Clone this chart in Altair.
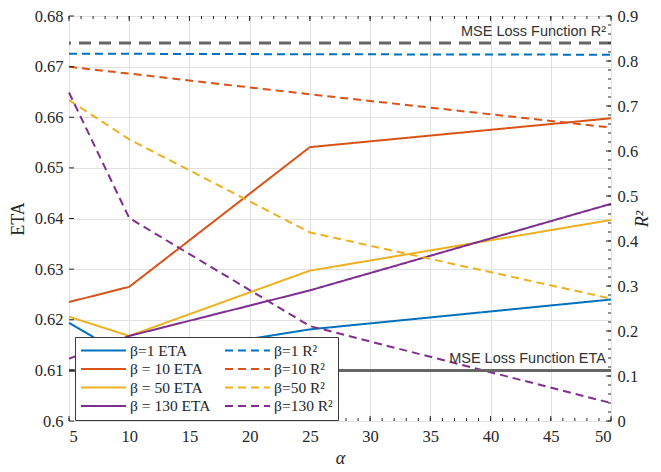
import altair as alt
import pandas as pd

# ---- data ----
alpha = [5, 10, 25, 50]
eta_b1 = [0.6194, 0.6124, 0.6181, 0.6240]
eta_b10 = [0.6235, 0.6265, 0.6541, 0.6598]
eta_b50 = [0.6206, 0.6168, 0.6297, 0.6397]
eta_b130 = [0.6123, 0.6168, 0.6258, 0.6429]
r2_b1 = [0.816, 0.816, 0.815, 0.814]
r2_b10 = [0.787, 0.772, 0.726, 0.652]
r2_b50 = [0.713, 0.626, 0.419, 0.272]
r2_b130 = [0.730, 0.451, 0.211, 0.040]
mse_eta = 0.61
mse_r2 = 0.84

eta_names = ["β=1 ETA", "β = 10 ETA", "β = 50 ETA", "β = 130 ETA"]
r2_names = ["β=1 R²", "β=10 R²", "β=50 R²", "β=130 R²"]
colors = ["#0072BD", "#D95319", "#EDB120", "#7E2F8E"]

x_major = [5, 10, 15, 20, 25, 30, 35, 40, 45, 50]
x_minor = list(range(5, 51))
eta_ticks = [0.60, 0.61, 0.62, 0.63, 0.64, 0.65, 0.66, 0.67, 0.68]
r2_major = [0, 0.1, 0.2, 0.3, 0.4, 0.5, 0.6, 0.7, 0.8, 0.9]
r2_minor = [round(0.02 * i, 2) for i in range(46)]

ETA_DOM = [0.6, 0.68]
R2_DOM = [0, 0.9]
W, H = 542, 405
SERIF = "Liberation Serif"
SANS = "Liberation Sans"
AX = "#262626"

# ---- tables ----
eta_rows, r2_rows = [], []
for name, vals in zip(eta_names, [eta_b1, eta_b10, eta_b50, eta_b130]):
    for a, v in zip(alpha, vals):
        eta_rows.append({"a": a, "v": v, "s": name})
for name, vals in zip(r2_names, [r2_b1, r2_b10, r2_b50, r2_b130]):
    for a, v in zip(alpha, vals):
        r2_rows.append({"a": a, "v": v, "s": name})
eta_df = pd.DataFrame(eta_rows)
r2_df = pd.DataFrame(r2_rows)

# legend fills column by column: first column ETA, second column R²
domain_order = eta_names + r2_names
color_range = colors + colors
dash_range = [[1, 0]] * 4 + [[8, 5]] * 4

xaxis = alt.Axis(values=x_major, grid=True, ticks=False, domain=False,
                 labelFont=SERIF, labelFontSize=16.5, labelColor=AX, labelPadding=7,
                 title="α", titleFont=SERIF, titleFontSize=18, titleFontStyle="italic",
                 titleFontWeight="normal", titleColor=AX, titlePadding=5,
                 gridColor="#e1e1e1", gridWidth=1)


def X():
    return alt.X("a:Q", scale=alt.Scale(domain=[5, 50], nice=False, zero=False), axis=xaxis)


def Yeta(axis=None):
    return alt.Y("v:Q", scale=alt.Scale(domain=ETA_DOM, nice=False, zero=False), axis=axis)


def Yr2(axis=None):
    return alt.Y("v:Q", scale=alt.Scale(domain=R2_DOM, nice=False, zero=False), axis=axis)


legend = alt.Legend(orient="none", legendX=6, legendY=321, columns=2,
                    symbolType="M-1,0H5", symbolSize=225, symbolStrokeWidth=2,
                    labelFont=SERIF, labelFontSize=15.5, labelColor=AX, labelLimit=0,
                    labelOffset=33, strokeColor="#3a3a3a", fillColor="white",
                    padding=5, rowPadding=1.5, columnPadding=10)

color_enc = alt.Color("s:N", title=None, legend=legend,
                      scale=alt.Scale(domain=domain_order, range=color_range))
dash_enc = alt.StrokeDash("s:N", title=None, legend=legend,
                          scale=alt.Scale(domain=domain_order, range=dash_range))

left_axis = alt.Axis(orient="left", values=eta_ticks, grid=True, ticks=False, domain=False,
                     labelExpr="format(datum.value, '.2~f')",
                     labelFont=SERIF, labelFontSize=16.5, labelColor=AX, labelPadding=6,
                     title="ETA", titleFont=SERIF, titleFontSize=18, titleFontWeight="normal",
                     titleColor=AX, titlePadding=7, gridColor="#e1e1e1")
right_axis = alt.Axis(orient="right", values=r2_major, grid=False, ticks=False, domain=False,
                      labelExpr="format(datum.value, '.1~f')",
                      labelFont=SERIF, labelFontSize=16.5, labelColor=AX, labelPadding=6,
                      title="R²", titleFont=SERIF, titleFontSize=18, titleFontStyle="italic",
                      titleFontWeight="normal", titleColor=AX, titlePadding=14, titleAngle=270)

eta_lines = alt.Chart(eta_df).mark_line(strokeWidth=2).encode(
    x=X(), y=Yeta(left_axis), color=color_enc, strokeDash=dash_enc)
r2_lines = alt.Chart(r2_df).mark_line(strokeWidth=2).encode(
    x=X(), y=Yr2(right_axis), color=color_enc, strokeDash=dash_enc)

mse_eta_df = pd.DataFrame({"v": [mse_eta]})
mse_r2_df = pd.DataFrame({"v": [mse_r2]})
mse_eta_rule = alt.Chart(mse_eta_df).mark_rule(color="#666666", strokeWidth=3).encode(y=Yeta())
mse_r2_rule = alt.Chart(mse_r2_df).mark_rule(color="#666666", strokeWidth=3,
                                             strokeDash=[12, 8]).encode(y=Yr2())

txt_eta_df = pd.DataFrame({"a": [50], "v": [mse_eta], "t": ["MSE Loss Function ETA"]})
txt_r2_df = pd.DataFrame({"a": [50], "v": [mse_r2], "t": ["MSE Loss Function R²"]})
txt_eta = alt.Chart(txt_eta_df).mark_text(font=SANS, fontSize=14.5, color="#333333", align="right",
                                          baseline="bottom", dx=-5, dy=-4).encode(
    x=X(), y=Yeta(), text="t:N")
txt_r2 = alt.Chart(txt_r2_df).mark_text(font=SANS, fontSize=14.5, color="#333333", align="right",
                                        baseline="bottom", dx=-5, dy=-4).encode(
    x=X(), y=Yr2(), text="t:N")

# ---- inward ticks ----
xmaj_df = pd.DataFrame({"a": x_major})
xmin_df = pd.DataFrame({"a": x_minor})
eta_t_df = pd.DataFrame({"v": eta_ticks})
r2maj_df = pd.DataFrame({"v": r2_major})
r2min_df = pd.DataFrame({"v": r2_minor})
tk = dict(color=AX, strokeWidth=1)
ticks = [
    alt.Chart(xmaj_df).mark_rule(**tk).encode(x=X(), y=alt.value(H), y2=alt.value(H - 5)),
    alt.Chart(xmaj_df).mark_rule(**tk).encode(x=X(), y=alt.value(0), y2=alt.value(5)),
    alt.Chart(xmin_df).mark_rule(**tk).encode(x=X(), y=alt.value(H), y2=alt.value(H - 3)),
    alt.Chart(xmin_df).mark_rule(**tk).encode(x=X(), y=alt.value(0), y2=alt.value(3)),
    alt.Chart(eta_t_df).mark_rule(**tk).encode(y=Yeta(), x=alt.value(0), x2=alt.value(5)),
    alt.Chart(r2maj_df).mark_rule(**tk).encode(y=Yr2(), x=alt.value(W), x2=alt.value(W - 5)),
    alt.Chart(r2min_df).mark_rule(**tk).encode(y=Yr2(), x=alt.value(W), x2=alt.value(W - 3)),
]

chart = alt.layer(
    eta_lines, r2_lines, mse_eta_rule, mse_r2_rule, txt_eta, txt_r2, *ticks
).resolve_scale(y="independent").properties(
    width=W, height=H,
    autosize=alt.AutoSizeParams(type="none"),
    padding={"left": 61, "top": 8, "right": 42, "bottom": 51},
).configure_view(stroke=AX, strokeWidth=1).configure(background="white")

chart.save("out.html", embed_options={"renderer": "svg", "actions": False})
